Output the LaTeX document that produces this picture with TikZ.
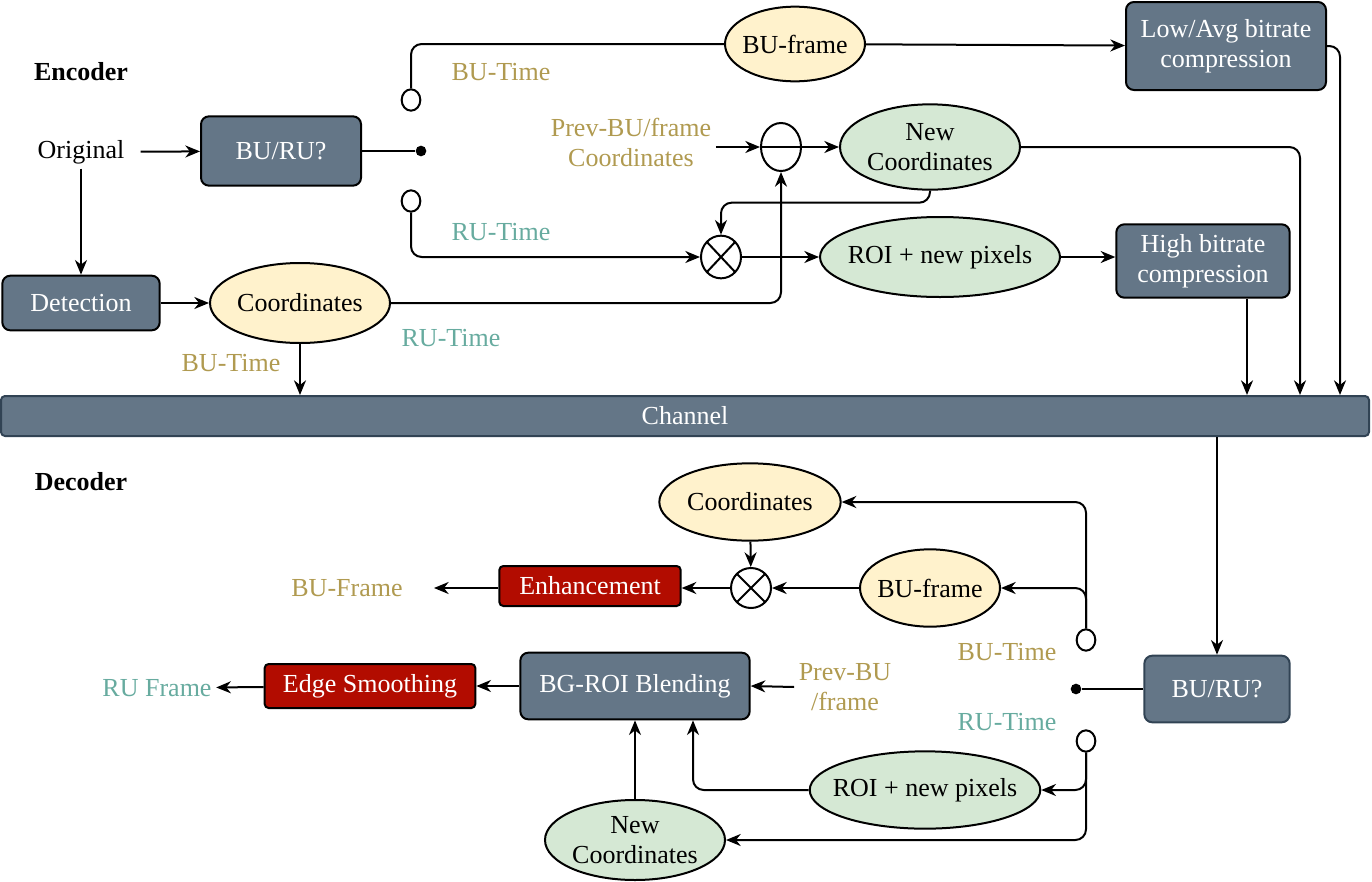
\documentclass[tikz,border=0pt]{standalone}
\usepackage{fontspec}
\setmainfont{LiberationSerif}[Extension=.ttf, UprightFont=*-Regular, BoldFont=*-Bold, ItalicFont=*-Italic, BoldItalicFont=*-BoldItalic]
\usetikzlibrary{shapes.geometric,arrows.meta,calc}

\definecolor{slate}{HTML}{647687}
\definecolor{slatedark}{HTML}{314354}
\definecolor{bubyellow}{HTML}{FFF2CC}
\definecolor{bubgreen}{HTML}{D5E8D4}
\definecolor{darkred}{HTML}{B20C00}
\definecolor{goldtxt}{HTML}{B09A50}
\definecolor{tealtxt}{HTML}{67AB9F}

\tikzset{
  box/.style={draw=black, fill=slate, text=white, rounded corners=6pt, line width=1.5pt, align=center, inner sep=2pt},
  redbox/.style={draw=black, fill=darkred, text=white, rounded corners=3pt, line width=1.5pt, align=center, inner sep=2pt},
  ybub/.style={ellipse, draw=black, fill=bubyellow, line width=1.5pt, align=center, inner xsep=-4pt, inner ysep=0pt},
  gbub/.style={ellipse, draw=black, fill=bubgreen, line width=1.5pt, align=center, inner xsep=-4pt, inner ysep=0pt},
  sw/.style={ellipse, draw=black, fill=white, line width=1.5pt, minimum width=14pt, minimum height=16pt, inner sep=0pt},
  dot/.style={circle, fill=black, minimum size=8pt, inner sep=0pt},
  mult/.style={ellipse, draw=black, fill=white, line width=1.5pt, minimum width=30pt, minimum height=32pt, inner sep=0pt,
    path picture={\draw[line width=1.5pt] (path picture bounding box.north west) -- (path picture bounding box.south east)
      (path picture bounding box.south west) -- (path picture bounding box.north east);}},
  subn/.style={ellipse, draw=black, fill=white, line width=1.5pt, minimum width=30pt, minimum height=36pt, inner sep=0pt,
    path picture={\draw[line width=1.5pt] (path picture bounding box.west) -- (path picture bounding box.east);}},
  gold/.style={text=goldtxt, align=center},
  teal/.style={text=tealtxt, align=center},
  arr/.style={line width=1.5pt, -{Stealth[length=11pt,width=9pt,inset=3.5pt]}},
  ln/.style={line width=1.5pt},
  rc/.style={rounded corners=8pt},
}

\begin{document}
\begin{tikzpicture}[x=0.75pt, y=-0.75pt, font=\fontsize{19.5}{22.5}\selectfont]
\useasboundingbox (0,0) rectangle (1372,882);

% ---------------- encoder
\node[font=\fontsize{19.5}{22.5}\selectfont\bfseries] (enclbl) at (81,72) {Encoder};
\node[inner xsep=12pt] (orig) at (81,152) {Original};
\node[box, minimum width=120pt, minimum height=52pt] (enc) at (281,151) {BU/RU?};
\node[dot] (ed) at (421,151) {};
\node[sw] (eb) at (411,100) {};
\node[sw] (er) at (411,201) {};
\node[ybub, minimum width=105pt, minimum height=56pt] (ebu) at (795,44) {BU-frame};
\node[box, minimum width=150pt, minimum height=66pt] (low) at (1226,46) {Low/Avg bitrate\\compression};
\node[gold] (prev) at (631,142) {Prev-BU/frame\\Coordinates};
\node[subn] (sub) at (781,147) {};
\node[gbub, minimum width=135pt, minimum height=64pt] (enew) at (930,147) {New\\Coordinates};
\node[mult] (emul) at (721,257) {};
\node[gbub, inner xsep=-8pt, minimum width=180pt, minimum height=60pt] (eroi) at (940,257) {ROI + new pixels};
\node[box, minimum width=130pt, minimum height=55pt] (high) at (1203,261) {High bitrate\\compression};
\node[box, minimum width=118pt, minimum height=41pt] (det) at (81,303) {Detection};
\node[ybub, minimum width=135pt, minimum height=60pt] (ecoord) at (300,303) {Coordinates};

\node[gold] (l1) at (501,72) {BU-Time};
\node[teal] (l2) at (501,232) {RU-Time};
\node[teal] (l3) at (451,338) {RU-Time};
\node[gold] (l4) at (231,363) {BU-Time};

% channel
\node[box, draw=slatedark, rounded corners=3pt, minimum width=1026pt, minimum height=30pt] (chan) at (685,416) {Channel};

\coordinate (hout) at ([xshift=33pt]high.south);
\coordinate (t3) at (1300,0);
\coordinate (t4) at (1340,0);

\draw[arr] (orig) -- (enc);
\draw[ln] (enc) -- (ed);
\draw[ln, rc] (eb.north) |- (ebu.west);
\draw[arr] (ebu) -- (low);
\draw[arr, rc] (low.east) -| (t4 |- chan.north);
\draw[arr] (prev.east |- sub.west) -- (sub.west);
\draw[arr] (sub) -- (enew);
\draw[arr, rc] (enew.east) -| (t3 |- chan.north);
\draw[arr, rc] (enew.south) -- ++(0,12) -| (emul.north);
\draw[arr, rc] (er.south) |- (emul.west);
\draw[arr] (emul) -- (eroi);
\draw[arr] (eroi.east) -- (eroi.east -| high.west);
\draw[arr] (hout) -- (hout |- chan.north);
\draw[arr] (orig) -- (det);
\draw[arr] (det) -- (ecoord);
\draw[arr, rc] (ecoord.east) -| (sub.south);
\draw[arr] (ecoord.south) -- (ecoord.south |- chan.north);

% ---------------- decoder
\node[font=\fontsize{19.5}{22.5}\selectfont\bfseries] (declbl) at (81,482) {Decoder};
\node[box, draw=slatedark, minimum width=109pt, minimum height=50pt] (dsw) at (1217,689) {BU/RU?};
\node[dot] (dd) at (1076,689) {};
\node[sw] (db) at (1086,640) {};
\node[sw] (dr) at (1086,741) {};
\node[ybub, minimum width=136pt, minimum height=58pt] (dcoord) at (750,502) {Coordinates};
\node[ybub, minimum width=105pt, minimum height=58pt] (dbu) at (930,588) {BU-frame};
\node[mult, minimum height=30pt] (dmul) at (751,588) {};
\node[redbox, minimum width=136pt, minimum height=30pt] (enh) at (590,586) {Enhancement};
\node[gold] (bufr) at (347,588) {BU-Frame};
\node[box, minimum width=172pt, minimum height=50pt] (blend) at (635,686) {BG-ROI Blending};
\node[gold] (prevd) at (845,687) {Prev-BU\\/frame};
\node[redbox, minimum width=158pt, minimum height=33pt] (edge) at (370,686) {Edge Smoothing};
\node[teal] (rufr) at (157,688) {RU Frame};
\node[gbub, inner xsep=-8pt, minimum width=172pt, minimum height=58pt] (droi) at (925,790) {ROI + new pixels};
\node[gbub, minimum width=135pt, minimum height=60pt] (dnew) at (635,840) {New\\Coordinates};

\node[gold] (l5) at (1007,652) {BU-Time};
\node[teal] (l6) at (1007,722) {RU-Time};

\coordinate (bin) at ([xshift=43.5pt]blend.south);

\draw[arr] (chan.south -| dsw) -- (dsw.north);
\draw[ln] (dsw) -- (dd);
\draw[arr, rc] (db.north) |- (dcoord.east);
\draw[arr, rc] (db.north) |- (dbu.east);
\draw[arr] (dcoord) -- (dmul);
\draw[arr] (dbu) -- (dmul);
\draw[arr] (dmul) -- (dmul -| enh.east);
\draw[arr] (enh.west |- dmul) -- ([xshift=20pt]bufr.east);
\draw[arr] (prevd.west) -- (blend.east);
\draw[arr] (blend) -- (edge);
\draw[arr] (edge) -- (rufr);
\draw[arr, rc] (dr.south) |- (droi.east);
\draw[arr, rc] (dr.south) |- (dnew.east);
\draw[arr, rc] (droi.west) -| (bin);
\draw[arr] (dnew) -- (blend);
\end{tikzpicture}
\end{document}
